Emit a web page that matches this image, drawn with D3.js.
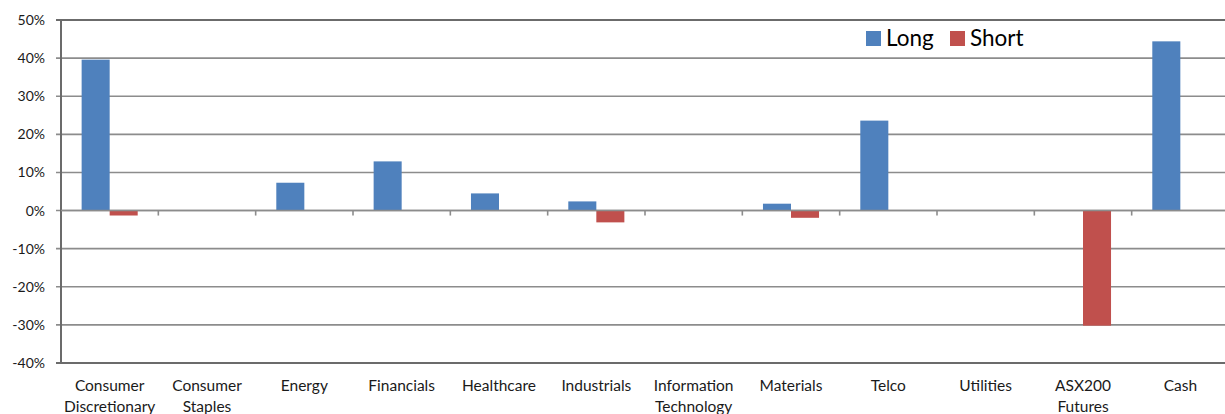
<!DOCTYPE html>
<html>
<head>
<meta charset="utf-8">
<script src="https://cdn.jsdelivr.net/npm/d3@7"></script>
<style>
  body { margin: 0; background: #fff; }
  svg { display: block; font-family: Lato, "Open Sans", sans-serif; }
</style>
</head>
<body>
<div id="chart"></div>
<script>
// sector exposures (percent)
var sectors = [
  ["Consumer", "Discretionary"], ["Consumer", "Staples"], ["Energy"], ["Financials"],
  ["Healthcare"], ["Industrials"], ["Information", "Technology"], ["Materials"],
  ["Telco"], ["Utilities"], ["ASX200", "Futures"], ["Cash"]
];
var longVals = [39.6, 0, 7.3, 12.9, 4.5, 2.4, 0, 1.8, 23.6, 0, 0, 44.4];
var shortVals = [-1.3, 0, 0, 0, 0, -3.1, 0, -1.9, 0, 0, -30.2, 0];
var yTicks = [-40, -30, -20, -10, 0, 10, 20, 30, 40, 50];
var seriesNames = ["Long", "Short"];
var colors = ["#4f81bd", "#c0504d"];

var w = 1225, h = 414;
var margin = {top: 20, right: -4, bottom: 51, left: 61};

var svg = d3.select("#chart").append("svg")
  .attr("width", w)
  .attr("height", h);

var x = d3.scaleBand()
  .domain(d3.range(sectors.length))
  .range([margin.left, w - margin.right]);

var y = d3.scaleLinear()
  .domain([-40, 50])
  .range([h - margin.bottom, margin.top]);

var barW = x.bandwidth() * 0.288;

// gridlines
svg.append("g")
  .selectAll("line")
  .data(yTicks)
  .enter()
  .append("line")
  .attr("x1", margin.left - 5)
  .attr("x2", w)
  .attr("y1", d => y(d))
  .attr("y2", d => y(d))
  .attr("stroke", d => (d === 50 || d === -40) ? "#6b6b6b" : "#8c8c8c")
  .attr("stroke-width", d => (d === 50 || d === -40) ? 2 : 1.6);

// left axis line
svg.append("line")
  .attr("x1", margin.left).attr("x2", margin.left)
  .attr("y1", y(50)).attr("y2", y(-40))
  .attr("stroke", "#6b6b6b")
  .attr("stroke-width", 2);

// y tick labels
svg.append("g")
  .selectAll("text")
  .data(yTicks)
  .enter()
  .append("text")
  .attr("x", margin.left - 16)
  .attr("y", d => y(d) + 5)
  .attr("text-anchor", "end")
  .attr("font-size", 14)
  .attr("fill", "#1a1a1a")
  .text(d => d + "%");

// category ticks on the zero line
svg.append("g")
  .selectAll("line")
  .data(d3.range(1, sectors.length))
  .enter()
  .append("line")
  .attr("x1", d => x(d))
  .attr("x2", d => x(d))
  .attr("y1", y(0))
  .attr("y2", y(0) + 5)
  .attr("stroke", "#8c8c8c")
  .attr("stroke-width", 1.6);

// bars
var series = [longVals, shortVals];
series.forEach(function(vals, s) {
  svg.append("g")
    .selectAll("rect")
    .data(vals)
    .enter()
    .append("rect")
    .attr("x", (d, i) => x(i) + x.bandwidth() / 2 - barW + s * barW)
    .attr("y", d => y(Math.max(0, d)))
    .attr("width", barW)
    .attr("height", d => Math.abs(y(d) - y(0)))
    .attr("fill", colors[s]);
});

// zero line on top of bars
svg.append("line")
  .attr("x1", margin.left).attr("x2", w)
  .attr("y1", y(0)).attr("y2", y(0))
  .attr("stroke", "#8c8c8c")
  .attr("stroke-width", 1.6);

// category labels
var lab = svg.append("g")
  .selectAll("text")
  .data(sectors)
  .enter()
  .append("text")
  .attr("text-anchor", "middle")
  .attr("font-size", 15.5)
  .attr("fill", "#1a1a1a")
  .attr("transform", (d, i) => "translate(" + (x(i) + x.bandwidth() / 2) + "," + (y(-40) + 28) + ")");

lab.selectAll("tspan")
  .data(d => d)
  .enter()
  .append("tspan")
  .attr("x", 0)
  .attr("dy", (d, i) => i === 0 ? 0 : 21)
  .text(d => d);

// legend
var leg = svg.append("g").attr("transform", "translate(866,30)");
var legX = [0, 84];
seriesNames.forEach(function(name, i) {
  leg.append("rect")
    .attr("x", legX[i])
    .attr("y", 1)
    .attr("width", 15)
    .attr("height", 15)
    .attr("fill", colors[i]);
  leg.append("text")
    .attr("x", legX[i] + 20)
    .attr("y", 16)
    .attr("font-size", 22.5)
    .attr("fill", "#000")
    .text(name);
});
</script>
</body>
</html>
